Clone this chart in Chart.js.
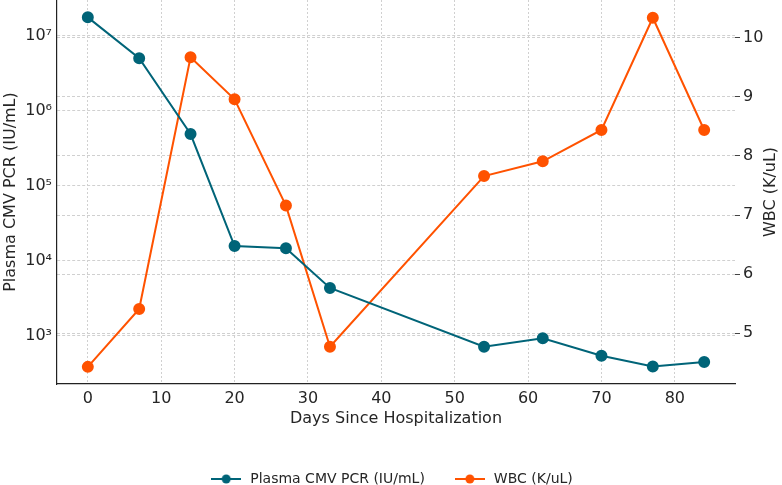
<!DOCTYPE html>
<html>
<head>
<meta charset="utf-8">
<script src="https://cdn.jsdelivr.net/npm/chart.js@4.4.1/dist/chart.umd.min.js"></script>
<style>
  html, body { margin: 0; padding: 0; background: #fff; }
  #wrap { width: 782px; height: 485px; }
</style>
</head>
<body>
<div id="wrap"><canvas id="cmvChart" width="782" height="485"></canvas></div>
<script>
// data
const days = [0, 7, 14, 20, 27, 33, 54, 62, 70, 77, 84];
const cmvPcr = [17600000, 5000000, 488000, 15600, 14600, 4300, 707, 920, 535, 385, 441];
const wbc = [4.43, 5.41, 9.67, 8.96, 7.16, 4.77, 7.66, 7.91, 8.44, 10.34, 8.44];
const dayTicks = [0, 10, 20, 30, 40, 50, 60, 70, 80];
const pcrTicks = [1e3, 1e4, 1e5, 1e6, 1e7];
const wbcTicks = [5, 6, 7, 8, 9, 10];

const BLUE = '#006478';
const ORANGE = '#ff5200';
const TEXT = '#262626';
const GRID = '#d0d0d0';
const FONT = "'DejaVu Sans', sans-serif";

const sup = { '0': '⁰', '1': '¹', '2': '²', '3': '³', '4': '⁴', '5': '⁵', '6': '⁶', '7': '⁷', '8': '⁸', '9': '⁹' };

// little line+dot swatch for the legend
function swatch(color) {
  const c = document.createElement('canvas');
  c.width = 30; c.height = 12;
  const g = c.getContext('2d');
  g.strokeStyle = color; g.lineWidth = 2;
  g.beginPath(); g.moveTo(0, 6); g.lineTo(30, 6); g.stroke();
  g.fillStyle = color;
  g.beginPath(); g.arc(15, 6, 4.5, 0, Math.PI * 2); g.fill();
  return c;
}

const rightTitle = {
  id: 'rightTitle',
  afterDraw(chart) {
    const ctx = chart.ctx;
    const a = chart.chartArea;
    ctx.save();
    ctx.translate(771, (a.top + a.bottom) / 2);
    ctx.rotate(-Math.PI / 2);
    ctx.font = '16px ' + FONT;
    ctx.fillStyle = TEXT;
    ctx.textAlign = 'center';
    ctx.textBaseline = 'middle';
    ctx.fillText('WBC (K/uL)', 0, 0);
    ctx.restore();
  }
};

const noPad = (s) => { s.paddingTop = 0; s.paddingBottom = 0; };

const ctx = document.getElementById('cmvChart').getContext('2d');
const chart = new Chart(ctx, {
  type: 'line',
  data: {
    datasets: [
      {
        label: 'Plasma CMV PCR (IU/mL)',
        data: days.map((d, i) => ({ x: d, y: cmvPcr[i] })),
        borderColor: BLUE,
        backgroundColor: BLUE,
        borderWidth: 2,
        pointRadius: 5,
        pointStyle: 'circle',
        clip: false,
        yAxisID: 'y',
      },
      {
        label: 'WBC (K/uL)',
        data: days.map((d, i) => ({ x: d, y: wbc[i] })),
        borderColor: ORANGE,
        backgroundColor: ORANGE,
        borderWidth: 2,
        pointRadius: 5,
        pointStyle: 'circle',
        clip: false,
        yAxisID: 'y1',
      },
    ],
  },
  options: {
    responsive: false,
    animation: false,
    layout: { autoPadding: false, padding: { top: 0, right: 0, bottom: -11, left: 0 } },
    plugins: {
      legend: {
        position: 'bottom',
        labels: {
          usePointStyle: true,
          pointStyleWidth: 34,
          padding: 28,
          color: TEXT,
          font: { family: FONT, size: 14 },
          generateLabels(ch) {
            return ch.data.datasets.map((ds, i) => ({
              text: ds.label,
              pointStyle: swatch(ds.borderColor),
              fontColor: TEXT,
              strokeStyle: ds.borderColor,
              fillStyle: ds.borderColor,
              lineWidth: 0,
              datasetIndex: i,
            }));
          },
        },
      },
      tooltip: { enabled: false },
    },
    scales: {
      x: {
        type: 'linear',
        min: -4.2,
        max: 88.2,
        afterBuildTicks: (s) => { s.ticks = dayTicks.map(v => ({ value: v })); },
        afterFit: (s) => { s.height = 60; },
        ticks: { color: TEXT, font: { family: FONT, size: 16 }, padding: 5 },
        grid: { color: GRID, drawTicks: false },
        border: { display: true, color: '#222', width: 1.2, dash: [2, 2] },
        title: { display: true, text: 'Days Since Hospitalization', color: TEXT,
                 font: { family: FONT, size: 16 }, padding: { top: 2, bottom: 16 } },
      },
      y: {
        type: 'logarithmic',
        position: 'left',
        min: 225,
        max: 3.0e7,
        afterBuildTicks: (s) => { s.ticks = pcrTicks.map(v => ({ value: v })); },
        afterFit: (s) => { s.width = 57; noPad(s); },
        ticks: {
          color: TEXT,
          font: { family: FONT, size: 16 },
          padding: 5,
          callback: (v) => '10' + String(Math.round(Math.log10(v))).split('').map(c => sup[c]).join(''),
        },
        grid: { color: GRID, drawTicks: false },
        border: { display: true, color: '#222', width: 1.2, dash: [3, 2] },
        title: { display: true, text: 'Plasma CMV PCR (IU/mL)', color: TEXT,
                 font: { family: FONT, size: 16 }, padding: { top: 1, bottom: 0 } },
      },
      y1: {
        type: 'linear',
        position: 'right',
        min: 4.14,
        max: 10.64,
        afterBuildTicks: (s) => { s.ticks = wbcTicks.map(v => ({ value: v })); },
        afterFit: (s) => { s.width = 47; noPad(s); },
        ticks: { color: TEXT, font: { family: FONT, size: 16 }, padding: 3 },
        grid: { color: GRID, tickLength: 5, tickColor: '#444', tickBorderDash: [] },
        border: { display: false, dash: [3, 2] },
      },
    },
  },
  plugins: [rightTitle],
});
</script>
</body>
</html>
